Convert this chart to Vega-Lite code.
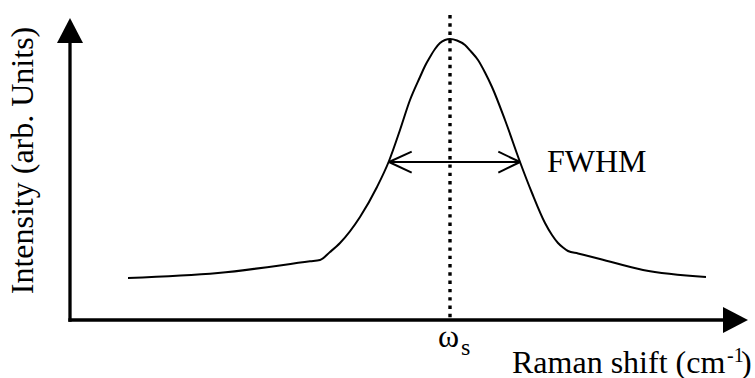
{
  "$schema": "https://vega.github.io/schema/vega-lite/v6.json",
  "width": 755,
  "height": 378,
  "autosize": {"type": "none"},
  "padding": 0,
  "config": {"view": {"stroke": null}},
  "datasets": {
    "curve": [
      {"x": 58, "y": 42}, {"x": 148, "y": 47}, {"x": 240, "y": 58.7}, {"x": 250, "y": 60}, {"x": 260, "y": 68}, {"x": 270, "y": 77},
      {"x": 290, "y": 103}, {"x": 307, "y": 133}, {"x": 319, "y": 159}, {"x": 330, "y": 190},
      {"x": 340, "y": 220}, {"x": 350, "y": 243}, {"x": 355, "y": 254}, {"x": 360, "y": 263}, {"x": 365, "y": 271}, {"x": 370, "y": 277},
      {"x": 375, "y": 280}, {"x": 380, "y": 281}, {"x": 387, "y": 279.5}, {"x": 395, "y": 275}, {"x": 401, "y": 268.5}, {"x": 408, "y": 260}, {"x": 415, "y": 247.5}, {"x": 422, "y": 233},
      {"x": 435, "y": 200}, {"x": 450, "y": 158}, {"x": 462, "y": 127}, {"x": 475, "y": 97},
      {"x": 482, "y": 85}, {"x": 488, "y": 77}, {"x": 493, "y": 72.5}, {"x": 498, "y": 69}, {"x": 508, "y": 66.5}, {"x": 530, "y": 61}, {"x": 573, "y": 50},
      {"x": 636, "y": 43}
    ],
    "axes": [
      {"x": 0, "y": 0, "x2": 0, "y2": 277},
      {"x": 0, "y": 0, "x2": 653, "y2": 0}
    ],
    "center": [{"x": 380, "y": 305, "x2": 380, "y2": 1}],
    "fwhm": [
      {"x": 319, "y": 158, "x2": 450, "y2": 158},
      {"x": 319, "y": 158, "x2": 341.7, "y2": 168.3},
      {"x": 319, "y": 158, "x2": 341.7, "y2": 147.3},
      {"x": 450, "y": 158, "x2": 428.3, "y2": 168.3},
      {"x": 450, "y": 158, "x2": 428.3, "y2": 147.3}
    ],
    "headUp": [{"x": 0, "y": 289.5}],
    "headRight": [{"x": 665.5, "y": 0}],
    "ytitle": [{"x": -37, "y": 159.5, "text": "Intensity (arb. Units)"}],
    "big": [
      {"x": 477, "y": 148, "text": "FWHM"},
      {"x": 442, "y": -53, "text": "Raman shift (cm"},
      {"x": 671, "y": -53, "text": ")"},
      {"x": 368, "y": -27, "text": "ω"}
    ],
    "small": [
      {"x": 657, "y": -42, "text": "-1"}
    ],
    "sub": [
      {"x": 391, "y": -35, "text": "s"}
    ]
  },
  "layer": [
    {
      "data": {"name": "curve"},
      "mark": {"type": "line", "color": "black", "strokeWidth": 2, "interpolate": "monotone"},
      "encoding": {
        "x": {"field": "x", "type": "quantitative", "scale": {"domain": [-70, 685], "nice": false, "zero": false}, "axis": null},
        "y": {"field": "y", "type": "quantitative", "scale": {"domain": [-58, 320], "nice": false, "zero": false}, "axis": null}
      }
    },
    {
      "data": {"name": "center"},
      "mark": {"type": "rule", "color": "black", "strokeWidth": 3.4, "strokeDash": [3.4, 4.9]},
      "encoding": {
        "x": {"field": "x", "type": "quantitative"},
        "y": {"field": "y", "type": "quantitative"},
        "x2": {"field": "x2"},
        "y2": {"field": "y2"}
      }
    },
    {
      "data": {"name": "axes"},
      "mark": {"type": "rule", "color": "black", "strokeWidth": 3.3, "strokeCap": "square"},
      "encoding": {
        "x": {"field": "x", "type": "quantitative"},
        "y": {"field": "y", "type": "quantitative"},
        "x2": {"field": "x2"},
        "y2": {"field": "y2"}
      }
    },
    {
      "data": {"name": "fwhm"},
      "mark": {"type": "rule", "color": "black", "strokeWidth": 2},
      "encoding": {
        "x": {"field": "x", "type": "quantitative"},
        "y": {"field": "y", "type": "quantitative"},
        "x2": {"field": "x2"},
        "y2": {"field": "y2"}
      }
    },
    {
      "data": {"name": "headUp"},
      "mark": {"type": "point", "filled": true, "color": "black", "opacity": 1, "size": 676, "shape": "M0,-0.96L1,0.96L-1,0.96Z"},
      "encoding": {
        "x": {"field": "x", "type": "quantitative"},
        "y": {"field": "y", "type": "quantitative"}
      }
    },
    {
      "data": {"name": "headRight"},
      "mark": {"type": "point", "filled": true, "color": "black", "opacity": 1, "size": 676, "shape": "M0.96,0L-0.96,-1L-0.96,1Z"},
      "encoding": {
        "x": {"field": "x", "type": "quantitative"},
        "y": {"field": "y", "type": "quantitative"}
      }
    },
    {
      "data": {"name": "ytitle"},
      "mark": {"type": "text", "font": "Liberation Serif", "fontSize": 32, "color": "black", "angle": 270, "align": "center", "baseline": "alphabetic"},
      "encoding": {
        "x": {"field": "x", "type": "quantitative"},
        "y": {"field": "y", "type": "quantitative"},
        "text": {"field": "text"}
      }
    },
    {
      "data": {"name": "big"},
      "mark": {"type": "text", "font": "Liberation Serif", "fontSize": 32, "color": "black", "align": "left", "baseline": "alphabetic"},
      "encoding": {
        "x": {"field": "x", "type": "quantitative"},
        "y": {"field": "y", "type": "quantitative"},
        "text": {"field": "text"}
      }
    },
    {
      "data": {"name": "small"},
      "mark": {"type": "text", "font": "Liberation Serif", "fontSize": 20, "color": "black", "align": "left", "baseline": "alphabetic"},
      "encoding": {
        "x": {"field": "x", "type": "quantitative"},
        "y": {"field": "y", "type": "quantitative"},
        "text": {"field": "text"}
      }
    },
    {
      "data": {"name": "sub"},
      "mark": {"type": "text", "font": "Liberation Serif", "fontSize": 24, "color": "black", "align": "left", "baseline": "alphabetic"},
      "encoding": {
        "x": {"field": "x", "type": "quantitative"},
        "y": {"field": "y", "type": "quantitative"},
        "text": {"field": "text"}
      }
    }
  ]
}
